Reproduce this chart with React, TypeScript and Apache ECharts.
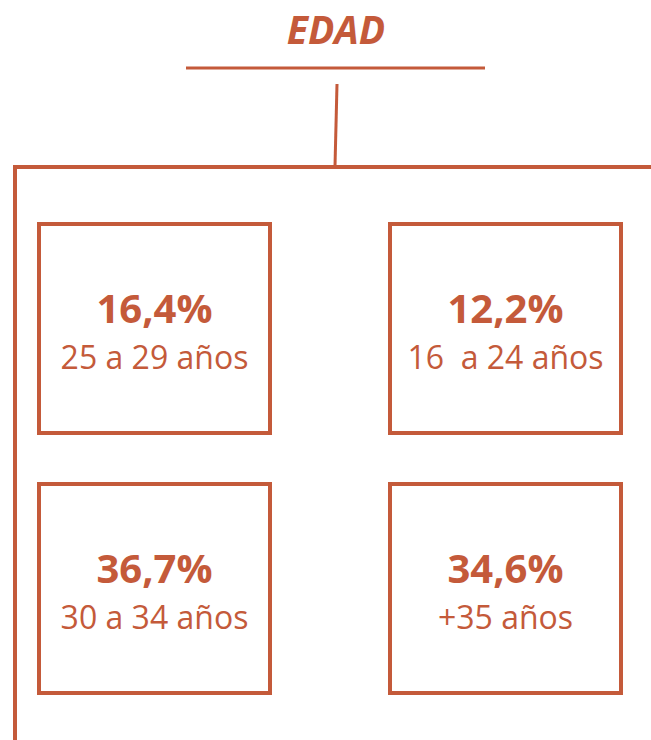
import React, { useEffect, useRef } from "react";
import * as echarts from "echarts";

const title = "EDAD";
const values = ["16,4%", "12,2%", "36,7%", "34,6%"];
const labels = ["25 a 29 años", "16  a 24 años", "30 a 34 años", "+35 años"];

const COLOR = "#C45A3A";
const FONT = "'Open Sans', 'Noto Sans', sans-serif";

export default function App() {
  const ref = useRef<HTMLDivElement>(null);
  useEffect(() => {
    if (!ref.current) return;
    const chart = echarts.init(ref.current, undefined, { renderer: "svg" });
    const colX = [39, 390];
    const rowY = [224, 484];
    const boxW = 231;
    const boxH = 209;
    const elements: any[] = [
      {
        type: "text",
        x: 336,
        y: 28,
        style: {
          text: title,
          fill: COLOR,
          font: `italic bold 39px ${FONT}`,
          align: "center",
          verticalAlign: "middle",
        },
      },
      { type: "line", shape: { x1: 186, y1: 68, x2: 485, y2: 68 }, style: { stroke: COLOR, lineWidth: 3 } },
      { type: "line", shape: { x1: 337, y1: 84, x2: 335, y2: 166 }, style: { stroke: COLOR, lineWidth: 3 } },
      { type: "line", shape: { x1: 13, y1: 167, x2: 651, y2: 167 }, style: { stroke: COLOR, lineWidth: 4 } },
      { type: "line", shape: { x1: 15, y1: 165, x2: 15, y2: 740 }, style: { stroke: COLOR, lineWidth: 4 } },
    ];
    values.forEach((v, i) => {
      const x = colX[i % 2];
      const y = rowY[Math.floor(i / 2)];
      const cx = x + boxW / 2;
      const cy = y + boxH / 2;
      elements.push({
        type: "rect",
        shape: { x, y, width: boxW, height: boxH },
        style: { fill: "none", stroke: COLOR, lineWidth: 4 },
      });
      elements.push({
        type: "text",
        x: cx,
        y: cy - 21,
        style: {
          text: v,
          fill: COLOR,
          font: `bold 40px ${FONT}`,
          align: "center",
          verticalAlign: "middle",
        },
      });
      elements.push({
        type: "text",
        x: cx,
        y: cy + 28,
        style: {
          text: labels[i],
          fill: COLOR,
          font: `normal 32px ${FONT}`,
          align: "center",
          verticalAlign: "middle",
        },
      });
    });
    chart.setOption({
      animation: false,
      backgroundColor: "#ffffff",
      graphic: { elements },
    });
    return () => chart.dispose();
  }, []);
  return (
    <div
      ref={ref}
      style={{ position: "fixed", left: 0, top: 0, width: 651, height: 740, background: "#fff" }}
    />
  );
}
